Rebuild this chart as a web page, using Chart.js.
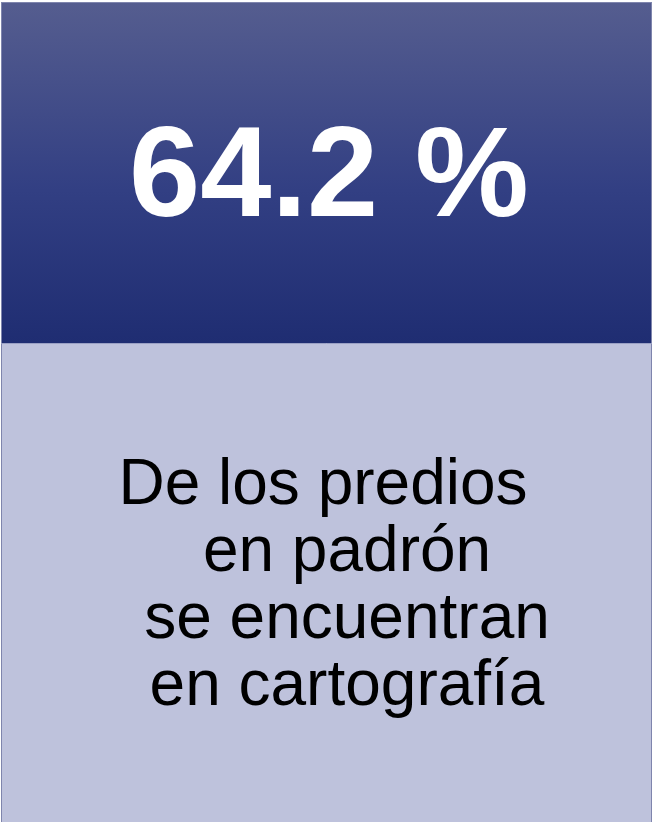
<!DOCTYPE html>
<html>
<head>
<meta charset="utf-8">
<script src="https://cdn.jsdelivr.net/npm/chart.js@4/dist/chart.umd.min.js"></script>
<style>
  html, body { margin: 0; padding: 0; background: #ffffff; }
  canvas { display: block; }
</style>
</head>
<body>
<canvas id="kpiChart" width="653" height="822"></canvas>
<script>
// indicator value and texts
const kpiValues = [64.2];
const kpiUnits = ['%'];
const descLines = ['De los predios', 'en padrón', 'se encuentran', 'en cartografía'];
const descCenters = [323, 347, 347, 347];

// draw text so that its ink starts at x
const fillInkLeft = (ctx, text, x, y) => {
    const m = ctx.measureText(text);
    ctx.fillText(text, x + m.actualBoundingBoxLeft, y);
};

const kpiCardPlugin = {
    id: 'kpiCard',
    beforeDraw(chart) {
        const ctx = chart.ctx;
        const w = chart.width;
        const h = chart.height;
        const splitY = 343;

        ctx.save();
        // top panel with gradient
        const grad = ctx.createLinearGradient(0, 3, 0, splitY);
        grad.addColorStop(0, '#555d8f');
        grad.addColorStop(0.55, '#323f83');
        grad.addColorStop(1, '#1f2d72');
        ctx.fillStyle = grad;
        ctx.fillRect(1, 3, w - 2, splitY - 3);

        // bottom panel
        ctx.fillStyle = '#bec2dc';
        ctx.fillRect(1, splitY, w - 2, h - splitY);

        // borders
        ctx.strokeStyle = '#7f85ad';
        ctx.lineWidth = 1;
        ctx.strokeRect(1.5, 2.5, w - 3, h);
        ctx.beginPath();
        ctx.moveTo(1, splitY + 0.5);
        ctx.lineTo(w - 1, splitY + 0.5);
        ctx.strokeStyle = '#9aa0c4';
        ctx.stroke();

        // big number
        ctx.fillStyle = '#ffffff';
        ctx.font = 'bold 128px "Liberation Sans", Arial, sans-serif';
        ctx.textAlign = 'left';
        ctx.textBaseline = 'alphabetic';
        fillInkLeft(ctx, kpiValues[0].toFixed(1), 133, 216);
        fillInkLeft(ctx, kpiUnits[0], 418, 216);

        // description
        ctx.textAlign = 'center';
        ctx.fillStyle = '#000000';
        ctx.font = '64px "Liberation Sans", Arial, sans-serif';
        descLines.forEach((line, i) => {
            ctx.fillText(line, descCenters[i], 504 + i * 67);
        });
        ctx.restore();
    }
};

const chartConfig = {
    type: 'bar',
    data: { labels: [''], datasets: [{ data: [], backgroundColor: 'transparent' }] },
    options: {
        responsive: false,
        animation: false,
        events: [],
        layout: { padding: 0 },
        scales: { x: { display: false }, y: { display: false } },
        plugins: { legend: { display: false }, tooltip: { enabled: false } }
    },
    plugins: [kpiCardPlugin]
};

new Chart(document.getElementById('kpiChart'), chartConfig);
</script>
</body>
</html>
